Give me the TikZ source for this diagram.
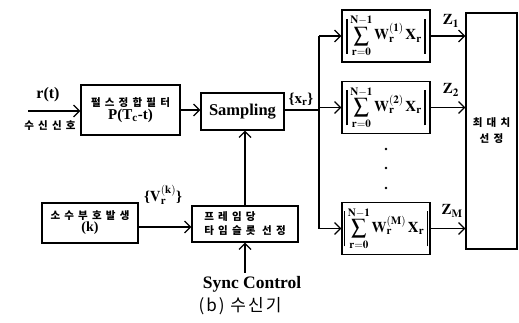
\documentclass[tikz,border=0pt]{standalone}
\usepackage{mathptmx}
\usepackage{fontspec}
\setmainfont{Liberation Serif}
\newfontfamily\kr{Noto Sans CJK KR}[LetterSpace=40]
\newfontfamily\krcap{Noto Sans CJK KR}[LetterSpace=12]
\usetikzlibrary{arrows.meta}
\tikzset{
  blk/.style={draw,line width=1.3pt,inner sep=0pt,align=center},
  sig/.style={line width=1.2pt,-{Straight Barb[length=6pt,width=12pt,line width=1.2pt]}},
  wire/.style={line width=1.2pt},
  lbl/.style={font=\bfseries\fontsize{15}{16}\selectfont},
  hangul/.style={font=\kr\bfseries\fontsize{10.5}{18}\selectfont},
  sumbox/.style={blk,minimum width=88pt,minimum height=52pt,font=\fontsize{15}{16}\selectfont},
}
\newcommand{\absbar}{\rule[-14pt]{1.3pt}{35pt}}
\newcommand{\wsum}[1]{\absbar\,$\displaystyle\sum_{\mathbf{r=0}}^{\mathbf{N-1}}\mathbf{W}_{\mathbf r}^{\mathbf{(#1)}}\,\mathbf{X}_{\mathbf r}$\,\absbar}
\begin{document}
\begin{tikzpicture}[x=1pt,y=-1pt]
        \useasboundingbox (0,0) rectangle (519,323);
        %% Boxes
        \node[blk,minimum width=99pt,minimum height=50pt] (filt) at (130.5,110) {{\kr\bfseries\fontsize{10.5}{18}\selectfont 펄스정합필터}\\[1pt]{\bfseries\fontsize{15}{16}\selectfont P(T\textsubscript{c}-t)}};
        \node[blk,minimum width=83pt,minimum height=37pt,font=\bfseries\fontsize{16.5}{16}\selectfont] (samp) at (242.5,111.5) {Sampling};
        \node[blk,minimum width=96pt,minimum height=40pt] (gen) at (90,223) {{\kr\bfseries\fontsize{10.5}{18}\selectfont 소수부호발생}\\{\bfseries\fontsize{14}{15}\selectfont (k)}};
        \node[blk,minimum width=106pt,minimum height=36pt,hangul,align=left] (frame) at (245,224) {프레임당\\[-4pt]타임슬롯 선정};
        \node[sumbox] (sum1) at (386,36) {\wsum{1}};
        \node[sumbox] (sum2) at (386,107.5) {\wsum{2}};
        \node[sumbox] (sumM) at (386,228.5) {\wsum{M}};
        \node[blk,minimum width=51pt,minimum height=236pt,font=\kr\bfseries\fontsize{10.5}{16}\selectfont] (maxsel) at (491.5,131) {최대치\\선정};
        %% Dots
        \foreach \y in {149,168,188} \fill (386,\y) circle (1.4);
        %% Labels
        \coordinate (rin) at (28,111);
        \node[font=\bfseries\fontsize{16}{16}\selectfont] (rlbl) at (48,95) {r(t)};
        \node[hangul] (rxlbl) at (50,126) {수신신호};
        \node[lbl] (vlbl) at (163,195) {\textbf{\{}$\mathbf{V}_{\mathbf r}^{\mathbf{(k)}}$\textbf{\}}};
        \node[lbl] (xlbl) at (301,99) {\textbf{\{}$\mathbf{x}_{\mathbf r}$\textbf{\}}};
        \node[lbl] (z1) at (451,21) {$\mathbf{Z}_{\mathbf 1}$};
        \node[lbl] (z2) at (451,90) {$\mathbf{Z}_{\mathbf 2}$};
        \node[lbl] (zM) at (452,211) {$\mathbf{Z}_{\mathbf M}$};
        \node[font=\bfseries\fontsize{17.5}{18}\selectfont] (sync) at (252,284) {Sync Control};
        \node[font=\krcap\fontsize{17}{18}\selectfont] (cap) at (240,306) {(b) 수신기};
        %% Connections
        \coordinate (bus) at (319,110);
        \draw[sig] (rin) -- (filt.west |- rin);
        \draw[sig] (filt.east) -- (samp.west |- filt.east);
        \draw[wire] (samp.east |- bus) -- (bus);
        \draw[wire] (bus |- sum1.west) -- (bus |- sumM.west);
        \draw[sig] (bus |- sum1.west) -- (sum1.west);
        \draw[sig] (bus |- sum2.west) -- (sum2.west);
        \draw[sig] (bus |- sumM.west) -- (sumM.west);
        \draw[sig] (sum1.east) -- (maxsel.west |- sum1.east);
        \draw[sig] (sum2.east) -- (maxsel.west |- sum2.east);
        \draw[sig] (sumM.east) -- (maxsel.west |- sumM.east);
        \draw[sig] (gen.east |- 0,227) -- (frame.west |- 0,227);
        \draw[sig] (frame.north) -- (frame.north |- samp.south);
        \draw[sig] (frame.south |- sync.north) -- (frame.south);
    \end{tikzpicture}
\end{document}
